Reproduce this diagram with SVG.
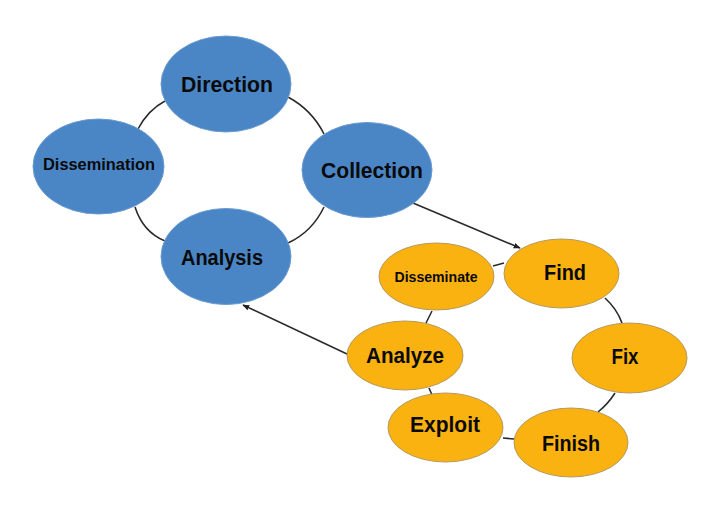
<svg xmlns="http://www.w3.org/2000/svg" width="714" height="510" viewBox="0 0 714 510">
<defs>
<marker id="ah" viewBox="0 0 10 10" refX="9" refY="5" markerWidth="7" markerHeight="7" orient="auto" markerUnits="userSpaceOnUse">
<path d="M0,1 L10,5 L0,9 z" fill="#222"/>
</marker>
<style>
.blue{fill:#4a86c6;stroke:#6a9bd0;stroke-width:1}
.gold{fill:#f9b20f;stroke:#b59860;stroke-width:1}
.t{font-family:"Liberation Sans",Arial,sans-serif;font-weight:bold;fill:#0a0a0a;text-anchor:middle}
.c{fill:none;stroke:#2a2a2a;stroke-width:1.6}
</style>
</defs>
<rect width="714" height="510" fill="#fff"/>
<g id="connectors">
<path class="c" d="M288,97 Q312,110 324,134"/>
<path class="c" d="M324,207 Q312,232 288,243"/>
<path class="c" d="M165,241 Q143,232 135,207"/>
<path class="c" d="M138,129 Q148,110 165,101"/>
<path class="c" d="M493,266 L504,263"/>
<path class="c" d="M605,298 Q617,309 622,323"/>
<path class="c" d="M615,393 Q608,404 598,412"/>
<path class="c" d="M503,438 L514,439"/>
<path class="c" d="M429,388 L432,395"/>
<path class="c" d="M432,311 L426,323"/>
<path class="c" d="M413,203 L520,248" marker-end="url(#ah)"/>
<path class="c" d="M347,354 L243,305" marker-end="url(#ah)"/>
</g>
<g id="direction"><ellipse class="blue" cx="226" cy="84" rx="65" ry="48"/><text class="t" x="227" y="92" font-size="22" textLength="92" lengthAdjust="spacingAndGlyphs">Direction</text></g>
<g id="dissemination"><ellipse class="blue" cx="98.5" cy="166.5" rx="65.5" ry="47.5"/><text class="t" x="99" y="170" font-size="16" textLength="112" lengthAdjust="spacingAndGlyphs">Dissemination</text></g>
<g id="collection"><ellipse class="blue" cx="367" cy="170" rx="65" ry="47.5"/><text class="t" x="372" y="178" font-size="22" textLength="102" lengthAdjust="spacingAndGlyphs">Collection</text></g>
<g id="analysis"><ellipse class="blue" cx="226" cy="256.5" rx="65" ry="48"/><text class="t" x="222" y="265" font-size="22" textLength="82" lengthAdjust="spacingAndGlyphs">Analysis</text></g>
<g id="disseminate"><ellipse class="gold" cx="436.5" cy="276.5" rx="57.5" ry="33.5"/><text class="t" x="436" y="282" font-size="14.5" textLength="83" lengthAdjust="spacingAndGlyphs">Disseminate</text></g>
<g id="find"><ellipse class="gold" cx="561.5" cy="273.5" rx="57.5" ry="34.5"/><text class="t" x="565" y="280" font-size="22" textLength="42" lengthAdjust="spacingAndGlyphs">Find</text></g>
<g id="fix"><ellipse class="gold" cx="629.5" cy="358" rx="57.5" ry="35"/><text class="t" x="625" y="364" font-size="22" textLength="27" lengthAdjust="spacingAndGlyphs">Fix</text></g>
<g id="analyze"><ellipse class="gold" cx="405" cy="355.5" rx="58" ry="34.5"/><text class="t" x="405" y="363" font-size="22" textLength="78" lengthAdjust="spacingAndGlyphs">Analyze</text></g>
<g id="exploit"><ellipse class="gold" cx="445.5" cy="427.5" rx="57.5" ry="34.5"/><text class="t" x="445" y="432" font-size="22" textLength="70" lengthAdjust="spacingAndGlyphs">Exploit</text></g>
<g id="finish"><ellipse class="gold" cx="571" cy="442.5" rx="57" ry="34.5"/><text class="t" x="571" y="451" font-size="22" textLength="58" lengthAdjust="spacingAndGlyphs">Finish</text></g>
</svg>
